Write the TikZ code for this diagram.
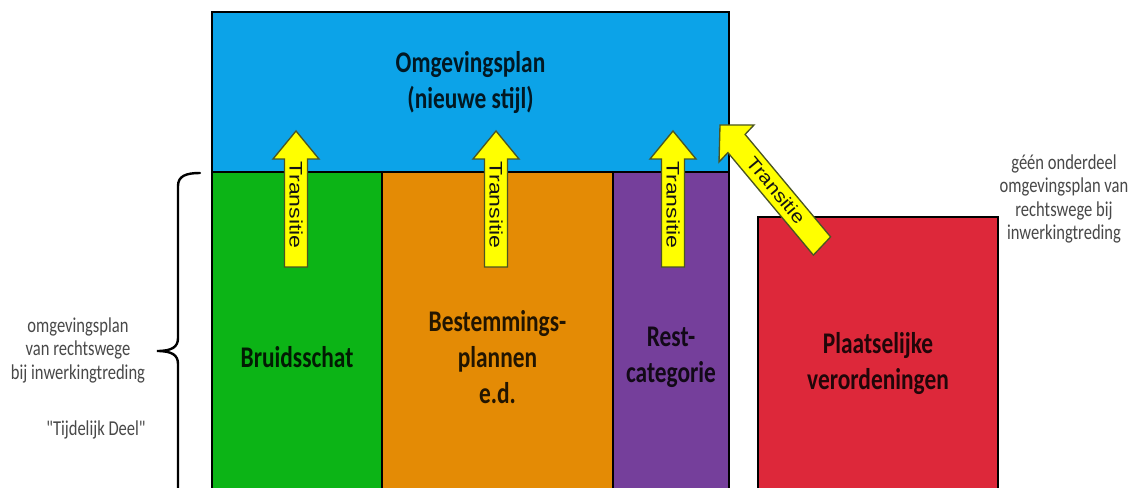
\documentclass[tikz,border=0pt]{standalone}
\usepackage{fontspec}
\setmainfont{Carlito}
\newfontfamily\lblfont[FakeStretch=0.78]{Carlito}
\newfontfamily\arrfont[FakeStretch=1.27]{Liberation Sans}
\newfontfamily\diagfont[FakeStretch=1.17]{Liberation Sans}
\definecolor{cblue}{RGB}{12,163,232}
\definecolor{cgreen}{RGB}{12,180,22}
\definecolor{corange}{RGB}{228,139,5}
\definecolor{cpurple}{RGB}{117,63,155}
\definecolor{cred}{RGB}{221,40,58}
\definecolor{cyellow}{RGB}{255,255,0}
\definecolor{cedge}{RGB}{75,85,35}
\definecolor{cgray}{RGB}{72,72,72}
\begin{document}
\begin{tikzpicture}[x=0.75pt,y=-0.75pt,
  blk/.style 2 args={rectangle, draw=black, inner sep=0pt, outer sep=0pt,
    minimum width=#1*0.75pt, minimum height=#2*0.75pt},
  lbl/.style={font=\lblfont\bfseries\fontsize{22.5}{27}\selectfont, align=center},
  graytxt/.style={font=\lblfont\fontsize{15.9}{17.6}\selectfont, align=center, text=cgray, inner sep=0pt},
  yarrow/.style={fill=cyellow, draw=cedge, line width=1pt, line join=miter},
  arrtxt/.style={font=\arrfont\fontsize{13.6}{15}\selectfont, text=black!92, inner sep=0pt},
  diagtxt/.style={font=\diagfont\fontsize{13.6}{15}\selectfont, text=black!92, inner sep=0pt}
]
\useasboundingbox (0,0) rectangle (1135,488);
\clip (0,0) rectangle (1135,488);
\fill[white] (0,0) rectangle (1135,488);

% lower boxes
\node[blk={170}{370}, fill=cgreen, line width=1.1pt, lbl, text=black!85!cgreen] (green) at (297,357) {Bruidsschat};
\node[blk={231}{370}, fill=corange, line width=1.1pt, lbl, text=black!85!corange] (orange) at (497.5,357) {Bestemmings-\\plannen\\e.d.};
\node[blk={116}{370}, fill=cpurple, line width=1.1pt, lbl, text=black!85!cpurple] (purple) at (671,357) {Rest-\\categorie};
% top box
\node[blk={517}{160}, fill=cblue, line width=1.5pt] (blue) at (470.5,92) {};
\node[lbl, text=black!85!cblue] (bluelbl) at (470.5,83) {Omgevingsplan\\(nieuwe stijl)};
\draw[line width=2.2pt, line join=miter] (green.south west) -- (blue.north west) -- (blue.north east) -- (purple.south east);
% red box
\node[blk={240}{294}, fill=cred, line width=2pt, lbl, text=black!85!cred] (red) at (878,364) {Plaatselijke\\verordeningen};

% vertical transition arrows
\foreach \cx/\n in {296/ta, 496/tb, 673/tc} {
  \draw[yarrow] (\cx,131) -- (\cx+23,159) -- (\cx+11.5,159) -- (\cx+11.5,267)
    -- (\cx-11.5,267) -- (\cx-11.5,159) -- (\cx-23,159) -- cycle;
  \node[arrtxt, rotate=-90] (\n) at (\cx,205) {Transitie};
}
% diagonal transition arrow
\draw[yarrow] (720,125) -- (754,125) -- (745.1,134.4) -- (830.6,236.9)
  -- (813.4,255.1) -- (727.9,152.6) -- (719,162) -- cycle;
\node[diagtxt, rotate=-50.2] (td) at (776,190) {Transitie};

% brace
\draw[line width=1.8pt, line cap=round] (200,173) .. controls (186,173) and (178,176) .. (178,186)
  -- (178,338) .. controls (178,347) and (172,351) .. (157,351)
  .. controls (172,351) and (178,355) .. (178,364)
  -- (178,516) .. controls (178,526) and (186,529) .. (200,529);

% side texts
\node[graytxt] (lefttxt) at (78,350) {omgevingsplan\\van rechtswege\\bij inwerkingtreding};
\node[graytxt] (tijd) at (96,430) {"Tijdelijk Deel"};
\node[graytxt] (righttxt) at (1064,199) {géén onderdeel\\omgevingsplan van\\rechtswege bij\\inwerkingtreding};
\end{tikzpicture}
\end{document}
